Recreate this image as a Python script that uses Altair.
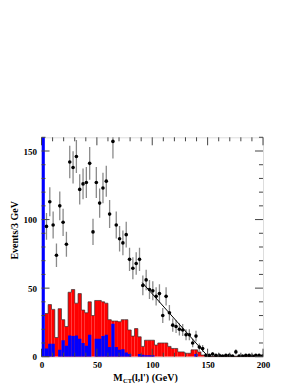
import altair as alt
import pandas as pd
import numpy as np

# ---------------- data ----------------
BIN = 3.0
red_counts = [0, 31.5, 38, 34.5, 14, 35, 27, 22, 47, 49,
              39, 46, 34, 32, 40, 30, 41, 41, 40, 39,
              27, 26, 26, 25.5, 27, 27, 19.5, 15, 20.5, 14.5,
              7.5, 12, 12, 12, 8.5, 10, 10, 10, 7.5, 6,
              6, 3.5, 3.5, 2.5, 2.5, 5, 5, 3.5, 1.2, 0.4,
              0.4, 0.4, 0.4, 0.4, 0.4, 0.4, 0.4, 0.4, 0.4, 0.4,
              0.4, 0.4, 0.4, 0.4, 0.4, 0.4, 0.4]
blue_counts = [400, 6, 9.5, 9.5, 0, 5, 12, 8, 15.5, 15,
               15.5, 13, 10, 8, 16, 0, 13, 13, 15, 16,
               7, 24, 7, 5, 5.5, 3, 2, 0, 0, 2,
               1.5, 1, 1, 1, 0, 0, 0, 0, 0, 0,
               0, 0, 0, 0, 0, 0, 2, 0, 0, 0,
               0, 0, 0, 0, 0, 0, 0, 0, 0, 0,
               0, 0, 0, 0, 0, 0, 0]

data_x = [4.5, 7.5, 10.5, 13.5, 16.5, 19.5, 22.5, 25.5, 28.5, 31.5,
          34.5, 37.5, 40.5, 43.5, 46.5, 49.5, 52.5, 55.5, 58.5, 61.5,
          64.5, 67.5, 70.5, 73.5, 76.5, 79.5, 82.5, 85.5, 88.5, 91.5,
          94.5, 97.5, 100.5, 103.5, 106.5, 109.5, 112.5, 115.5, 118.5, 121.5,
          124.5, 127.5, 130.5, 133.5, 136.5, 139.5, 142.5, 145.5, 148.5, 151.5,
          154.5, 157.5, 160.5, 163.5, 166.5, 169.5, 172.5, 175.5, 178.5, 181.5,
          184.5, 187.5, 190.5, 193.5, 196.5, 199.5]
data_y = [95, 113, 96, 74, 110, 98, 82, 142, 138, 146,
          122, 126, 127, 141, 91, 127, 112, 123, 128, 104,
          157, 96, 86, 83, 89, 71, 64.5, 68, 71, 52,
          56, 49, 48, 44, 46, 30, 44, 32, 23, 22,
          20, 19.5, 16, 16, 10, 15, 7, 6, 1, 1,
          2, 1, 1, 0.5, 1, 1, 0.5, 3.5, 0.5, 0.5,
          1, 1, 0.5, 1, 1, 0.5]

fit_x = [91, 150.5, 200]
fit_y = [54, 0, 0]

x_major = [0, 50, 100, 150, 200]
x_minor = [10, 20, 30, 40, 60, 70, 80, 90, 110, 120, 130, 140, 160, 170, 180, 190]
y_major = [0, 50, 100, 150]
y_minor = [10, 20, 30, 40, 60, 70, 80, 90, 110, 120, 130, 140, 160]

# ---------------- tables ----------------
n = len(red_counts)
hist = pd.DataFrame({
    "lo": [i * BIN for i in range(n)],
    "hi": [(i + 1) * BIN for i in range(n)],
    "red": red_counts,
    "blue": blue_counts,
    "zero": [0] * n,
})
outline = pd.DataFrame({
    "e": [i * BIN for i in range(1, n)] + [n * BIN],
    "v": red_counts[1:] + [red_counts[-1]],
})
pts = pd.DataFrame({
    "x": data_x,
    "y": data_y,
    "lo": [max(v - np.sqrt(v), 0) for v in data_y],
    "hi": [v + np.sqrt(v) for v in data_y],
})
fit = pd.DataFrame({"x": fit_x, "y": fit_y})

W, H = 221.5, 219.4
SERIF = "Liberation Serif"

xs = alt.Scale(domain=[0, 200], nice=False, zero=False)
ys = alt.Scale(domain=[0, 160], nice=False)

xaxis = alt.Axis(values=x_major, ticks=False, domain=False, grid=False,
                 labelFont=SERIF, labelFontWeight="bold", labelFontSize=9,
                 labelColor="black", labelPadding=4, labelFlush=False, title=None)
yaxis = alt.Axis(values=y_major, ticks=False, domain=False, grid=False,
                 labelFont=SERIF, labelFontWeight="bold", labelFontSize=9,
                 labelColor="black", labelPadding=5, labelFlush=False, title=None)

base = alt.Chart(hist)

red = base.mark_rect(color="#ff0000", clip=True).encode(
    x=alt.X("lo:Q", scale=xs, axis=xaxis),
    x2="hi:Q",
    y=alt.Y("red:Q", scale=ys, axis=yaxis),
    y2="zero:Q",
)
red_line = alt.Chart(outline).mark_line(
    interpolate="step-after", color="#333333", strokeWidth=0.7, clip=True
).encode(x=alt.X("e:Q", scale=xs), y=alt.Y("v:Q", scale=ys), order="e:Q")

blue = base.mark_rect(color="#0000ff", clip=True).encode(
    x=alt.X("lo:Q", scale=xs), x2="hi:Q",
    y=alt.Y("blue:Q", scale=ys), y2="zero:Q",
)

err = alt.Chart(pts).mark_rule(color="#8a8a8a", strokeWidth=1.3, clip=True).encode(
    x=alt.X("x:Q", scale=xs), y=alt.Y("lo:Q", scale=ys), y2="hi:Q"
)
dots = alt.Chart(pts).mark_point(filled=True, shape="circle", size=13,
                                 color="black", opacity=1, clip=True).encode(
    x=alt.X("x:Q", scale=xs), y=alt.Y("y:Q", scale=ys)
)
fitl = alt.Chart(fit).mark_line(color="black", strokeWidth=1, clip=True).encode(
    x=alt.X("x:Q", scale=xs), y=alt.Y("y:Q", scale=ys)
)

TICKC = "#444444"
def xticks(vals, ln):
    d = pd.DataFrame({"t": vals})
    b = alt.Chart(d).mark_rule(color=TICKC, strokeWidth=1)
    return (b.encode(x=alt.X("t:Q", scale=xs), y=alt.value(H), y2=alt.value(H - ln))
            + b.encode(x=alt.X("t:Q", scale=xs), y=alt.value(0), y2=alt.value(ln)))

def yticks(vals, ln):
    d = pd.DataFrame({"t": vals})
    b = alt.Chart(d).mark_rule(color=TICKC, strokeWidth=1)
    return (b.encode(y=alt.Y("t:Q", scale=ys), x=alt.value(0), x2=alt.value(ln))
            + b.encode(y=alt.Y("t:Q", scale=ys), x=alt.value(W), x2=alt.value(W - ln)))

ticks = xticks(x_major, 8) + xticks(x_minor, 4) + yticks(y_major, 8) + yticks(y_minor, 4)

# titles
lab = pd.DataFrame({"a": [0]})
ytitle = alt.Chart(lab).mark_text(text="Events/3 GeV", font=SERIF, fontWeight="bold",
                                  fontSize=10, angle=270, align="center",
                                  baseline="middle", color="black").encode(
    x=alt.value(-26.5), y=alt.value(93))
t_m = alt.Chart(lab).mark_text(text="M", font=SERIF, fontWeight="bold", fontSize=10,
                               align="left", baseline="alphabetic", color="black").encode(
    x=alt.value(71.8), y=alt.value(243.7))
t_ct = alt.Chart(lab).mark_text(text="CT", font=SERIF, fontWeight="bold", fontSize=6.5,
                                align="left", baseline="alphabetic", color="black").encode(
    x=alt.value(81.6), y=alt.value(245.5))
t_rest = alt.Chart(lab).mark_text(text="(l,l') (GeV)", font=SERIF, fontWeight="bold",
                                  fontSize=10, align="left", baseline="alphabetic",
                                  color="black").encode(
    x=alt.value(90.2), y=alt.value(243.7))

chart = alt.layer(
    red, red_line, blue, err, dots, fitl, ticks, ytitle, t_m, t_ct, t_rest
).properties(
    width=W, height=H,
    autosize=alt.AutoSizeParams(type="none"),
    padding={"left": 33.5, "top": 129.3, "right": 28, "bottom": 30},
).configure_view(stroke="#9a9a9a", strokeWidth=1).configure(background="white")

chart.save("out.html", embed_options={"renderer": "svg", "actions": False})
